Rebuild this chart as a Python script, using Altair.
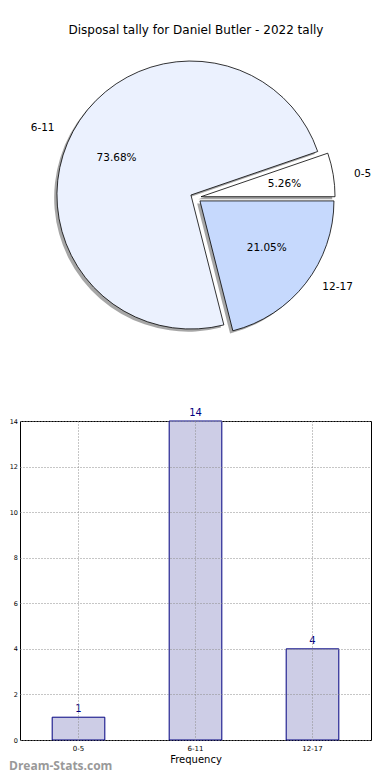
import altair as alt
import pandas as pd

categories = ["0-5", "6-11", "12-17"]
counts = [1, 14, 4]
wedge_colors = ["#ffffff", "#ebf1fe", "#c6d9fd"]
title_text = "Disposal tally for Daniel Butler - 2022 tally"
y_ticks = [0, 2, 4, 6, 8, 10, 12, 14]
watermark_text = "Dream-Stats.com"

df = pd.DataFrame({"cat": categories, "count": counts, "i": list(range(len(categories)))})

# horizontal offset of the pie view origin (aligned with bar plot origin)
OX = 11
# pie geometry (pixels, inside the pie view)
CX, CY = 186.7 - OX, 189.6
R = 134
RX, RY = 141, 128
D = 5.4
SX, SY = -2.8, 2.6

base = (
    alt.Chart(df)
    .transform_window(cum="sum(count)", sort=[alt.SortField("i")])
    .transform_joinaggregate(total="sum(count)")
    .transform_calculate(
        phi0="2*PI*(datum.cum-datum.count)/datum.total",
        phi1="2*PI*datum.cum/datum.total",
        pct="format(100*datum.count/datum.total, '.2f') + '%'",
    )
    .transform_calculate(
        mid="(datum.phi0+datum.phi1)/2",
        a0="2.5*PI-datum.phi0",
        a1="2.5*PI-datum.phi1",
    )
    .transform_calculate(
        cx=f"{CX}+{D}*cos(datum.mid)",
        cy=f"{CY}-{D}*sin(datum.mid)",
    )
    .transform_calculate(
        sx=f"datum.cx+({SX})",
        sy=f"datum.cy+({SY})",
        lx=f"datum.cx+1.1*{RX}*cos(datum.mid)",
        ly=f"datum.cy-1.1*{RY}*sin(datum.mid)",
        px=f"datum.cx+0.6*{RX}*cos(datum.mid)",
        py=f"datum.cy-0.6*{RY}*sin(datum.mid)",
    )
)

shadow = base.mark_arc(radius=R, fill="#4d4d4d", opacity=0.5).encode(
    theta=alt.Theta("a0:Q", scale=None),
    theta2=alt.Theta2("a1:Q"),
    x=alt.X("sx:Q", scale=None, axis=None),
    y=alt.Y("sy:Q", scale=None, axis=None),
)

wedges = base.mark_arc(radius=R, stroke="black", strokeWidth=0.8).encode(
    theta=alt.Theta("a0:Q", scale=None),
    theta2=alt.Theta2("a1:Q"),
    x=alt.X("cx:Q", scale=None, axis=None),
    y=alt.Y("cy:Q", scale=None, axis=None),
    fill=alt.Fill("cat:N", scale=alt.Scale(domain=categories, range=wedge_colors), legend=None),
)

lab_font = dict(font="DejaVu Sans", fontSize=10.5, color="black", baseline="middle")

labels_right = base.transform_filter("cos(datum.mid) >= 0").mark_text(align="left", **lab_font).encode(
    x=alt.X("lx:Q", scale=None, axis=None),
    y=alt.Y("ly:Q", scale=None, axis=None),
    text="cat:N",
)
labels_left = base.transform_filter("cos(datum.mid) < 0").mark_text(align="right", **lab_font).encode(
    x=alt.X("lx:Q", scale=None, axis=None),
    y=alt.Y("ly:Q", scale=None, axis=None),
    text="cat:N",
)
pcts = base.mark_text(align="center", **lab_font).encode(
    x=alt.X("px:Q", scale=None, axis=None),
    y=alt.Y("py:Q", scale=None, axis=None),
    text="pct:N",
)

title = alt.Chart(pd.DataFrame({"t": [title_text]})).mark_text(
    font="DejaVu Sans", fontSize=12, color="black", align="center", baseline="middle"
).encode(x=alt.value(187 - OX), y=alt.value(22), text="t:N")

pie = alt.layer(shadow, wedges, labels_right, labels_left, pcts, title).properties(
    width=370 - OX, height=399
)

bars = alt.Chart(df).mark_bar(color="#cdcde6", stroke="#000080", strokeWidth=1).encode(
    x=alt.X(
        "cat:N",
        sort=categories,
        scale=alt.Scale(paddingInner=0.55, paddingOuter=0.275),
        axis=alt.Axis(
            title="Frequency", labelAngle=0, labelFontSize=7, labelFont="DejaVu Sans",
            labelColor="black", titleFont="DejaVu Sans", titleFontSize=10,
            titleFontWeight="normal", titleColor="black", titlePadding=3,
            labelPadding=4, ticks=False, tickSize=0, domain=False,
            grid=True, gridDash=[1, 2], gridColor="#8c8c8c", gridWidth=1, zindex=1,
        ),
    ),
    y=alt.Y(
        "count:Q",
        scale=alt.Scale(domain=[0, 14], nice=False),
        axis=alt.Axis(
            values=y_ticks, title=None, labelFontSize=6.5, labelFont="DejaVu Sans",
            labelColor="black", labelPadding=2.5, ticks=False, tickSize=0, domain=False,
            grid=True, gridDash=[1, 2], gridColor="#8c8c8c", gridWidth=1, zindex=1,
        ),
    ),
)

bar_labels = alt.Chart(df).mark_text(
    dy=-3, baseline="bottom", color="#000080", fontSize=10, font="DejaVu Sans"
).encode(x=alt.X("cat:N", sort=categories), y="count:Q", text="count:Q")

watermark = alt.Chart(pd.DataFrame({"t": [watermark_text]})).mark_text(
    font="Open Sans", fontSize=12, fontWeight="bold", color="#999999",
    align="left", baseline="middle",
).encode(x=alt.value(-OX), y=alt.value(345), text="t:N")

bar_chart = alt.layer(bars, bar_labels, watermark).properties(
    width=351, height=319, view=alt.ViewBackground(stroke="black", strokeWidth=1)
)

chart = (
    alt.vconcat(pie, bar_chart, spacing=0)
    .properties(padding=0)
    .configure_view(stroke=None)
)

chart.save("out.html", embed_options={"renderer": "svg", "actions": False})
